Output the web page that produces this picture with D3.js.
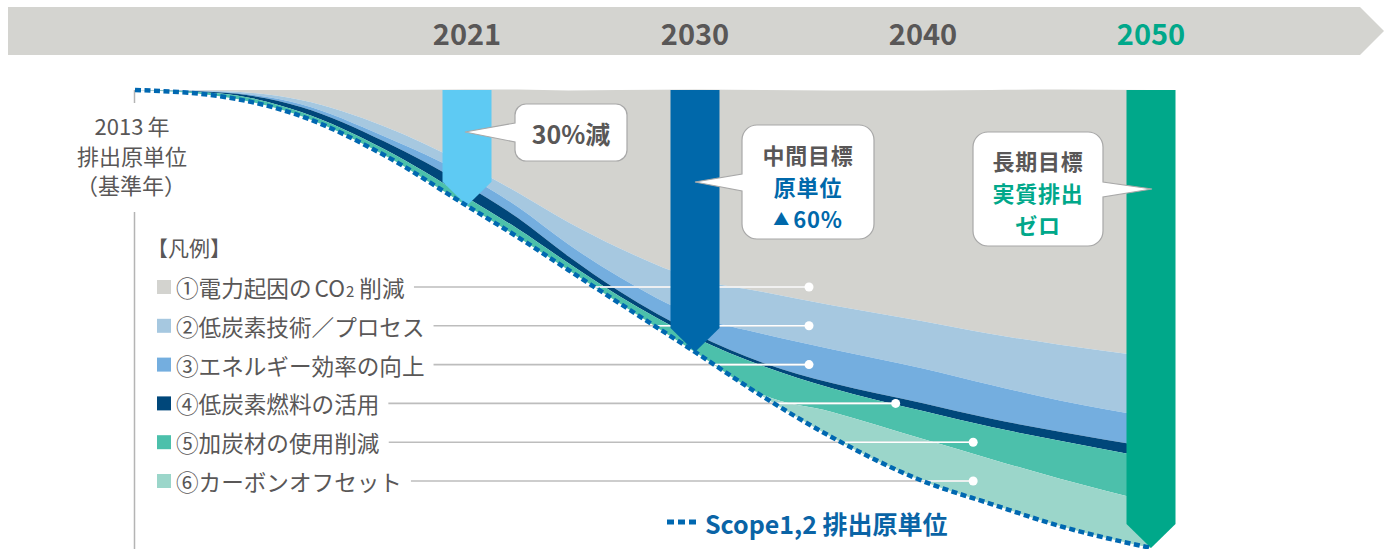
<!DOCTYPE html>
<html>
<head>
<meta charset="utf-8">
<script src="https://cdn.jsdelivr.net/npm/d3@7"></script>
<style>
    html, body { margin: 0; padding: 0; background: #fff; }
    text { font-family: "Noto Sans CJK JP", "Noto Sans", sans-serif; }
</style>
</head>
<body>
<div id="vis"></div>
<script>
// data: share of the 2013 emission intensity (2013 = 100)
var years = [2013, 2015, 2017, 2019, 2021, 2023, 2025, 2027, 2030, 2033, 2036, 2040, 2043, 2046, 2050];
var scope12 = [100, 98.7, 94.3, 85.8, 74.7, 67.9, 60.7, 53.5, 42.8, 33.0, 24.2, 14.6, 9.6, 4.8, 0];
var offsetCut = [0, 0, 0, 0, 0, 0, 0, 0, 0, 0.4, 5.5, 9.2, 9.8, 10.3, 10.0];            // ⑥
var carbonCut = [0, 0.6, 0.9, 1.3, 1.8, 1.8, 1.5, 1.5, 3.1, 6.3, 5.2, 6.1, 7.0, 8.3, 9.6];   // ⑤
var fuelCut = [0, 0.2, 1.1, 1.7, 2.6, 2.4, 1.5, 1.1, 0.9, 0.7, 1.1, 1.7, 1.8, 2.0, 2.4];     // ④
var energyCut = [0, 0.1, 0.6, 1.1, 2.2, 2.4, 2.6, 3.1, 3.9, 6.3, 7.4, 7.6, 7.4, 6.8, 6.6];   // ③
var processCut = [0, 0.2, 0.9, 2.2, 2.4, 3.1, 4.8, 6.3, 8.1, 9.2, 9.6, 10.3, 11.1, 12.2, 13.1]; // ②
var powerCut = [0, 0.2, 2.2, 7.9, 16.4, 22.5, 28.8, 34.5, 41.3, 44.1, 46.9, 50.4, 53.3, 55.7, 58.3]; // ①

var tickYears = ["2021", "2030", "2040", "2050"];
var milestoneYears = [2021, 2030, 2050];

var legendLabels = ["①電力起因の", "②低炭素技術／プロセス", "③エネルギー効率の向上", "④低炭素燃料の活用", "⑤加炭材の使用削減", "⑥カーボンオフセット"];
var legendPointYears = [2035, 2035, 2035, 2038.8, 2042.2, 2042.2];

var keys = ["scope", "s6", "s5", "s4", "s3", "s2", "s1"];
var layerColor = {s1: "#d3d3cf", s2: "#a6c8e0", s3: "#74aedf", s4: "#00477a", s5: "#4cc0ab", s6: "#9bd6ca"};
var legendColors = ["#d3d3cf", "#a6c8e0", "#74aedf", "#00477a", "#4cc0ab", "#9bd6ca"];
var milestoneColors = ["#5ecaf3", "#0068aa", "#00a88a"];
var textGray = "#595757";

var width = 1391, height = 549;

var svg = d3.select("#vis").append("svg")
    .attr("width", width)
    .attr("height", height);

var x = d3.scaleLinear()
    .domain([2013, 2021, 2030, 2050])
    .range([135, 467, 695, 1151]);

var y = d3.scaleLinear()
    .domain([0, 100])
    .range([548, 90]);

var table = years.map(function (yr, i) {
    return {year: yr, scope: scope12[i], s6: offsetCut[i], s5: carbonCut[i], s4: fuelCut[i],
        s3: energyCut[i], s2: processCut[i], s1: powerCut[i]};
});

var series = d3.stack().keys(keys)(table);

// top time banner
svg.append("path")
    .attr("d", "M8,7H1360L1384,31L1360,55H8Z")
    .attr("fill", "#d4d4d0");

svg.append("g").selectAll("text")
    .data(tickYears)
    .enter().append("text")
    .attr("x", function (d) { return x(+d); })
    .attr("y", 32)
    .attr("text-anchor", "middle")
    .attr("dominant-baseline", "central")
    .attr("font-size", 29)
    .attr("font-weight", "bold")
    .attr("fill", function (d) { return d === "2050" ? "#00a88a" : textGray; })
    .text(function (d) { return d; });

// stacked reduction bands
var area = d3.area()
    .x(function (d) { return x(d.data.year); })
    .y0(function (d) { return y(d[0]); })
    .y1(function (d) { return y(d[1]); })
    .curve(d3.curveMonotoneX);

svg.append("g").selectAll("path")
    .data(series.filter(function (s) { return s.key !== "scope"; }).reverse())
    .enter().append("path")
    .attr("fill", function (d) { return layerColor[d.key]; })
    .attr("d", area);

// clip = all coloured bands
var totalArea = d3.area()
    .x(function (d) { return x(d.year); })
    .y0(function (d) { return y(d.scope); })
    .y1(y(100))
    .curve(d3.curveMonotoneX);

svg.append("clipPath").attr("id", "bands")
    .append("path").attr("d", totalArea(table));

// left axis line + base label
var axisG = svg.append("g").attr("stroke", "#b4b4b4").attr("stroke-width", 1.5);
axisG.append("line").attr("x1", 134.5).attr("x2", 134.5).attr("y1", y(100)).attr("y2", 103);
axisG.append("line").attr("x1", 134.5).attr("x2", 134.5).attr("y1", 212).attr("y2", height);

var baseLabel = svg.append("text")
    .attr("font-size", 22)
    .attr("fill", textGray)
    .attr("text-anchor", "middle")
    .attr("dominant-baseline", "central");
baseLabel.append("tspan").attr("x", 132).attr("y", 125).text("2013");
baseLabel.append("tspan").attr("dx", 4).text("年");
baseLabel.append("tspan").attr("x", 132).attr("y", 155).text("排出原単位");
baseLabel.append("tspan").attr("x", 131).attr("y", 184).text("（基準年）");

// legend
svg.append("text")
    .attr("x", 147)
    .attr("y", 247)
    .attr("dominant-baseline", "central")
    .attr("font-size", 21)
    .attr("fill", textGray)
    .text("【凡例】");

var rowY = function (i) { return 287 + i * 38.8; };

var legend = svg.append("g").selectAll("g")
    .data(legendLabels)
    .enter().append("g")
    .attr("transform", function (d, i) { return "translate(0," + rowY(i) + ")"; });

legend.append("rect")
    .attr("x", 157)
    .attr("y", -7)
    .attr("width", 14)
    .attr("height", 14)
    .attr("fill", function (d, i) { return legendColors[i]; });

var legendText = legend.append("text")
    .attr("x", 176)
    .attr("y", 0)
    .attr("dominant-baseline", "central")
    .attr("font-size", 22.6)
    .attr("fill", textGray);

legendText.append("tspan").text(function (d) { return d; });
legendText.filter(function (d, i) { return i === 0; }).each(function () {
    var t = d3.select(this);
    t.append("tspan").attr("dx", 3).text("CO");
    t.append("tspan").attr("font-size", 15).attr("dy", 3).attr("dx", 1).text("2");
    t.append("tspan").attr("dy", -3).attr("dx", 5).text("削減");
});

var textEnd = [];
legendText.each(function () {
    var b = this.getBBox();
    textEnd.push(b.x + b.width);
});

var connectors = svg.append("g");
connectors.selectAll("line.g")
    .data(legendLabels)
    .enter().append("line")
    .attr("x1", function (d, i) { return textEnd[i] + 9; })
    .attr("x2", function (d, i) { return x(legendPointYears[i]); })
    .attr("y1", function (d, i) { return rowY(i); })
    .attr("y2", function (d, i) { return rowY(i); })
    .attr("stroke", "#bdbdbd")
    .attr("stroke-width", 1.6);

connectors.append("g").attr("clip-path", "url(#bands)")
    .selectAll("line")
    .data(legendLabels)
    .enter().append("line")
    .attr("x1", function (d, i) { return textEnd[i] + 9; })
    .attr("x2", function (d, i) { return x(legendPointYears[i]); })
    .attr("y1", function (d, i) { return rowY(i); })
    .attr("y2", function (d, i) { return rowY(i); })
    .attr("stroke", "#fff")
    .attr("stroke-width", 1.6);

connectors.selectAll("circle")
    .data(legendLabels)
    .enter().append("circle")
    .attr("cx", function (d, i) { return x(legendPointYears[i]); })
    .attr("cy", function (d, i) { return rowY(i); })
    .attr("r", 4.5)
    .attr("fill", "#fff");

// milestone bars
var barW = 49;
svg.append("g").selectAll("path")
    .data(milestoneYears)
    .enter().append("path")
    .attr("fill", function (d, i) { return milestoneColors[i]; })
    .attr("d", function (d) {
        var cx = x(d);
        var tip = y(scope12[years.indexOf(d)]);
        return "M" + (cx - barW / 2) + "," + y(100) + "V" + (tip - 24) + "L" + cx + "," + tip +
            "L" + (cx + barW / 2) + "," + (tip - 24) + "V" + y(100) + "Z";
    });

// Scope1,2 dotted line
var scopeLine = d3.line()
    .x(function (d) { return x(d.year); })
    .y(function (d) { return y(d.scope); })
    .curve(d3.curveMonotoneX);

svg.append("path")
    .datum(table)
    .attr("fill", "none")
    .attr("stroke", "#0068b1")
    .attr("stroke-width", 4.5)
    .attr("stroke-dasharray", "6,3.5")
    .attr("d", scopeLine);

// callouts
function callout(bx, by, bw, bh, r, side, a, b, tipX, tipY) {
    var p = d3.path();
    p.moveTo(bx + r, by);
    p.lineTo(bx + bw - r, by);
    p.arcTo(bx + bw, by, bx + bw, by + r, r);
    if (side === "right") {
        p.lineTo(bx + bw, a);
        p.lineTo(tipX, tipY);
        p.lineTo(bx + bw, b);
    }
    p.lineTo(bx + bw, by + bh - r);
    p.arcTo(bx + bw, by + bh, bx + bw - r, by + bh, r);
    p.lineTo(bx + r, by + bh);
    p.arcTo(bx, by + bh, bx, by + bh - r, r);
    if (side === "left") {
        p.lineTo(bx, b);
        p.lineTo(tipX, tipY);
        p.lineTo(bx, a);
    }
    p.lineTo(bx, by + r);
    p.arcTo(bx, by, bx + r, by, r);
    p.closePath();
    svg.append("path")
        .attr("d", p.toString())
        .attr("fill", "#fff")
        .attr("stroke", "#a8a8a8")
        .attr("stroke-width", 1.2);
}

callout(515, 104, 112, 57, 11, "left", 123, 142, x(2021) - 2, 132);
callout(742, 125, 132, 114, 15, "left", 174, 191, x(2030), 182);
callout(973, 132, 130, 114, 15, "right", 182, 197, x(2050) + 1, 189);

// one text per callout, lines as tspans
function calloutText(cx, lines) {
    var t = svg.append("text")
        .attr("text-anchor", "middle")
        .attr("dominant-baseline", "central")
        .attr("font-size", 22)
        .attr("letter-spacing", 0.8)
        .attr("font-weight", "bold");
    lines.forEach(function (l) {
        var ts = t.append("tspan").attr("x", cx).attr("y", l.y).attr("fill", l.color);
        if (l.mark) {
            ts.append("tspan").attr("font-size", 16).text(l.mark);
            ts.append("tspan").attr("dx", 3).text(l.text);
        } else {
            ts.text(l.text);
        }
    });
}

svg.append("text")
    .attr("x", 571)
    .attr("y", 133)
    .attr("text-anchor", "middle")
    .attr("dominant-baseline", "central")
    .attr("font-size", 25)
    .attr("font-weight", "bold")
    .attr("fill", textGray)
    .text("30%減");

calloutText(808, [
    {y: 154, text: "中間目標", color: textGray},
    {y: 186, text: "原単位", color: "#0068aa"},
    {y: 218, mark: "▲", text: "60%", color: "#0068aa"}
]);
calloutText(1038, [
    {y: 160, text: "長期目標", color: textGray},
    {y: 192, text: "実質排出", color: "#00a88a"},
    {y: 224, text: "ゼロ", color: "#00a88a"}
]);

// Scope legend
svg.append("line")
    .attr("x1", 667).attr("x2", 697)
    .attr("y1", 522).attr("y2", 522)
    .attr("stroke", "#0068b1")
    .attr("stroke-width", 5)
    .attr("stroke-dasharray", "7,4");

svg.append("text")
    .attr("x", 705)
    .attr("y", 523)
    .attr("dominant-baseline", "central")
    .attr("font-size", 25)
    .attr("font-weight", "bold")
    .attr("fill", "#0a64a6")
    .text("Scope1,2 排出原単位");
</script>
</body>
</html>
